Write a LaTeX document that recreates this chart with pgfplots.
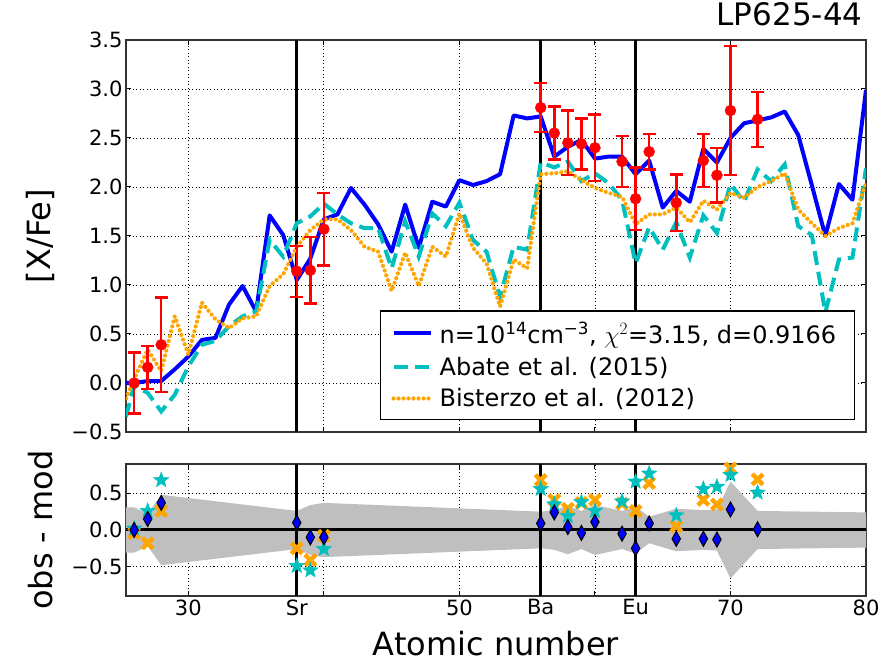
\documentclass[border=0pt]{standalone}
\usepackage{fontspec}
\setmainfont{DejaVu Sans}
\usepackage{pgfplots}
\usepackage{pgfplotstable}
\pgfplotsset{compat=1.18}

\definecolor{mblue}{rgb}{0,0,1}
\definecolor{mcyan}{rgb}{0,0.75,0.75}
\definecolor{morange}{rgb}{1,0.647,0}
\definecolor{mred}{rgb}{1,0,0}

% filled five-point star
\pgfdeclareplotmark{fstar}{%
  \pgfpathmoveto{\pgfpointpolar{90}{\pgfplotmarksize}}%
  \pgfpathlineto{\pgfpointpolar{126}{0.42\pgfplotmarksize}}%
  \pgfpathlineto{\pgfpointpolar{162}{\pgfplotmarksize}}%
  \pgfpathlineto{\pgfpointpolar{198}{0.42\pgfplotmarksize}}%
  \pgfpathlineto{\pgfpointpolar{234}{\pgfplotmarksize}}%
  \pgfpathlineto{\pgfpointpolar{270}{0.42\pgfplotmarksize}}%
  \pgfpathlineto{\pgfpointpolar{306}{\pgfplotmarksize}}%
  \pgfpathlineto{\pgfpointpolar{342}{0.42\pgfplotmarksize}}%
  \pgfpathlineto{\pgfpointpolar{18}{\pgfplotmarksize}}%
  \pgfpathlineto{\pgfpointpolar{54}{0.42\pgfplotmarksize}}%
  \pgfpathclose
  \pgfusepathqfillstroke
}
% filled thick X
\pgfdeclareplotmark{fX}{%
  \pgftransformrotate{45}%
  \pgfpathrectangle{\pgfpoint{-\pgfplotmarksize}{-0.29\pgfplotmarksize}}{\pgfpoint{2\pgfplotmarksize}{0.58\pgfplotmarksize}}%
  \pgftransformrotate{-90}%
  \pgfpathrectangle{\pgfpoint{-\pgfplotmarksize}{-0.29\pgfplotmarksize}}{\pgfpoint{2\pgfplotmarksize}{0.58\pgfplotmarksize}}%
  \pgfusepathqfill
}

% model predictions [X/Fe]
\pgfplotstableread{
z blue cyan orange
25 0.00 -0.55 -0.30
26 0.00 -0.03 0.04
27 0.02 -0.10 0.34
28 0.02 -0.29 0.12
29 0.14 -0.12 0.68
30 0.27 0.17 0.29
31 0.44 0.39 0.82
32 0.46 0.43 0.65
33 0.80 0.58 0.56
34 0.99 0.68 0.66
35 0.73 0.73 0.68
36 1.71 1.46 0.99
37 1.51 1.29 1.11
38 1.05 1.63 1.39
39 1.27 1.70 1.56
40 1.67 1.83 1.67
41 1.72 1.72 1.67
42 1.99 1.63 1.56
43 1.82 1.58 1.39
44 1.62 1.58 1.34
45 1.34 1.17 0.94
46 1.82 1.65 1.33
47 1.38 1.29 0.99
48 1.85 1.73 1.39
49 1.80 1.60 1.29
50 2.07 1.84 1.73
51 2.02 1.46 1.38
52 2.06 1.34 1.22
53 2.13 0.88 0.78
54 2.73 1.39 1.26
55 2.70 1.36 1.17
56 2.72 2.25 2.13
57 2.31 2.20 2.14
58 2.41 2.26 2.16
59 2.48 2.06 2.07
60 2.29 2.14 1.99
61 2.31 2.04 1.94
62 2.31 1.87 1.90
63 2.13 1.22 1.62
64 2.27 1.59 1.72
65 1.79 1.36 1.72
66 1.96 1.64 1.79
67 1.85 1.28 1.64
68 2.39 1.71 1.86
69 2.25 1.53 1.77
70 2.50 2.03 1.94
71 2.65 1.85 1.89
72 2.68 2.18 2.00
73 2.71 2.06 2.06
74 2.77 2.23 2.14
75 2.53 1.60 1.77
76 2.02 1.51 1.63
77 1.50 0.72 1.50
78 2.03 1.26 1.58
79 1.87 1.28 1.63
80 2.99 2.19 2.04
}\models

% observed abundances
\pgfplotstableread{
z v e
26 0.00 0.31
27 0.16 0.22
28 0.39 0.48
38 1.14 0.26
39 1.15 0.34
40 1.57 0.37
56 2.81 0.25
57 2.55 0.27
58 2.45 0.33
59 2.44 0.26
60 2.40 0.34
62 2.26 0.26
63 1.88 0.32
64 2.36 0.18
66 1.84 0.29
68 2.27 0.27
69 2.12 0.28
70 2.78 0.66
72 2.69 0.28
}\obs

% residuals obs - mod
\pgfplotstableread{
z dblue dcyan dorange
26 0.00 0.02 -0.04
27 0.15 0.26 -0.18
28 0.37 0.68 0.26
38 0.10 -0.49 -0.25
39 -0.10 -0.55 -0.41
40 -0.10 -0.26 -0.08
56 0.09 0.56 0.68
57 0.24 0.35 0.41
58 0.04 0.19 0.29
59 -0.04 0.38 0.37
60 0.11 0.26 0.41
62 -0.05 0.39 0.36
63 -0.25 0.66 0.26
64 0.09 0.77 0.64
66 -0.12 0.20 0.05
68 -0.12 0.56 0.41
69 -0.13 0.59 0.35
70 0.28 0.75 0.84
72 0.01 0.51 0.69
}\resid

\pgfplotsset{
  panel/.style={
    scale only axis, width=740pt,
    xmin=25.4, xmax=80,
    xtick={30,38,40,50,56,60,63,70,80},
    grid=major,
    major grid style={black, line width=0.8pt, dash pattern=on 1pt off 2.5pt},
    axis line style={black!80, line width=1.3pt},
    tick style={black, line width=1pt},
    major tick length=5pt,
    tick label style={font=\fontsize{21pt}{25pt}\selectfont},
    label style={font=\fontsize{32pt}{38pt}\selectfont},
  },
  elemline/.style={black, line width=3pt, forget plot},
}

\begin{document}
\begin{tikzpicture}
\useasboundingbox (0,0) rectangle (895pt,662pt);

\begin{axis}[panel,
  at={(126pt,230pt)}, anchor=south west,
  height=392pt,
  ymin=-0.5, ymax=3.5,
  ytick={-0.5,0,0.5,1,1.5,2,2.5,3,3.5},
  yticklabels={−0.5,0.0,0.5,1.0,1.5,2.0,2.5,3.0,3.5},
  xticklabels={},
  ylabel={[X/Fe]},
  ylabel style={at={(axis description cs:-0.115,0.5)}, anchor=center},
  title={LP625-44},
  title style={at={(axis description cs:1,1)}, anchor=base east, yshift=8pt,
    font=\fontsize{31pt}{36pt}\selectfont},
  legend cell align=left,
  legend image code/.code={\draw[#1] (0pt,0pt) -- (37pt,0pt);},
  legend style={at={(axis description cs:0.985,0.0306)}, anchor=south east,
    draw=black, line width=1.3pt, font=\fontsize{24pt}{28pt}\selectfont,
    inner xsep=11pt, inner ysep=9pt, row sep=8pt,
    nodes={inner xsep=7pt, inner ysep=2pt}},
]
\addplot[elemline] coordinates {(38,-0.5) (38,3.5)};
\addplot[elemline] coordinates {(56,-0.5) (56,3.5)};
\addplot[elemline] coordinates {(63,-0.5) (63,3.5)};

\addplot[mblue, line width=4pt, line join=round] table[x=z, y=blue] {\models};
\addlegendentry{n=10\textsuperscript{14}cm\textsuperscript{−3}, $\chi^2$=3.15, d=0.9166}
\addplot[mcyan, line width=4pt, dash pattern=on 14pt off 7pt] table[x=z, y=cyan] {\models};
\addlegendentry{Abate et al. (2015)}
\addplot[morange, line width=4.2pt, line cap=round, dash pattern=on 0pt off 5pt] table[x=z, y=orange] {\models};
\addlegendentry{Bisterzo et al. (2012)}

\addplot[only marks, mark=*, mark size=5.5pt, color=mred, forget plot,
  error bars/.cd, y dir=both, y explicit,
  error bar style={line width=2.5pt, mred},
  error mark options={rotate=90, mark size=6.5pt, line width=2.5pt, mred}]
  table[x=z, y=v, y error=e] {\obs};
\end{axis}

\begin{axis}[panel,
  at={(126pt,66pt)}, anchor=south west,
  height=132pt,
  ymin=-0.9, ymax=0.9,
  ytick={-0.5,0,0.5},
  yticklabels={−0.5,0.0,0.5},
  xticklabels={30,Sr,,50,Ba,,Eu,70,80},
  xlabel={Atomic number},
  xlabel style={at={(axis description cs:0.5,-0.447)}, anchor=base},
  ylabel={obs - mod},
  ylabel style={at={(axis description cs:-0.115,0.5)}, anchor=center},
]
\addplot[fill=gray!50, draw=none, forget plot] coordinates {
  (25.4,0.31) (26,0.31) (27,0.22) (28,0.48) (38,0.26) (39,0.34) (40,0.37)
  (56,0.25) (57,0.27) (58,0.33) (59,0.26) (60,0.34) (62,0.26) (63,0.32)
  (64,0.18) (66,0.29) (68,0.27) (69,0.28) (70,0.66) (72,0.26) (80,0.24)
  (80,-0.24) (72,-0.26) (70,-0.66) (69,-0.28) (68,-0.27) (66,-0.29) (64,-0.18)
  (63,-0.32) (62,-0.26) (60,-0.34) (59,-0.26) (58,-0.33) (57,-0.27) (56,-0.25)
  (40,-0.37) (39,-0.34) (38,-0.26) (28,-0.48) (27,-0.22) (26,-0.31) (25.4,-0.31)
} -- cycle;
\addplot[black, line width=3pt, forget plot] coordinates {(25.4,0) (80,0)};
\addplot[elemline] coordinates {(38,-0.9) (38,0.9)};
\addplot[elemline] coordinates {(56,-0.9) (56,0.9)};
\addplot[elemline] coordinates {(63,-0.9) (63,0.9)};

\addplot[only marks, mark=fX, mark size=7.6pt, mark options={fill=morange, draw=none}] table[x=z, y=dorange] {\resid};
\addplot[only marks, mark=fstar, mark size=8pt, mcyan, mark options={fill=mcyan, draw=mcyan, line width=0.5pt}] table[x=z, y=dcyan] {\resid};
\addplot[only marks, mark=diamond*, mark size=7.5pt, mark options={xscale=0.75, fill=mblue, draw=black, line width=1pt}] table[x=z, y=dblue] {\resid};
\end{axis}
\end{tikzpicture}
\end{document}
